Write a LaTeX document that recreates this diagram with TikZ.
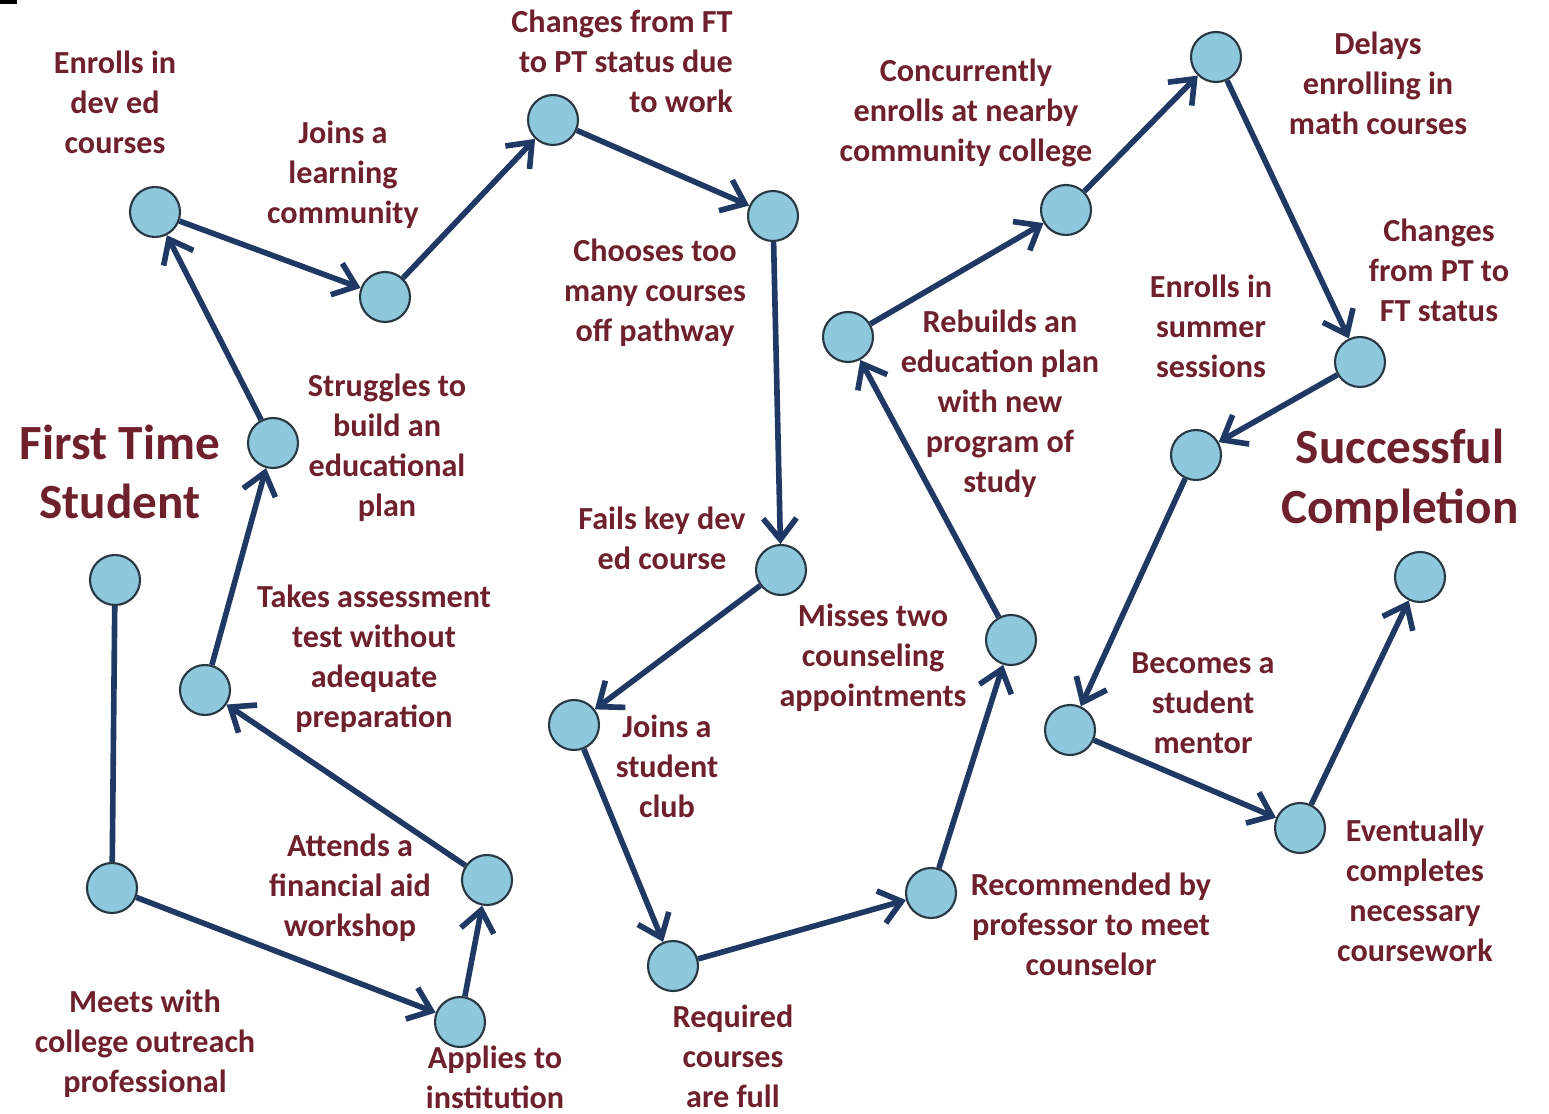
\documentclass[tikz,border=0pt]{standalone}
\usepackage{fontspec}
\setmainfont{Carlito}
\usetikzlibrary{arrows.meta}
\definecolor{txt}{RGB}{110,32,44}
\definecolor{dot}{RGB}{142,200,220}
\definecolor{dotline}{RGB}{40,55,66}
\definecolor{arr}{RGB}{31,56,100}
\tikzset{
  stop/.style={circle,fill=dot,draw=dotline,line width=1.2pt,minimum size=1cm,inner sep=0pt},
  lbl/.style={text=txt,font=\bfseries\fontsize{18.3}{22.8}\selectfont,align=center,inner sep=0pt},
  ttl/.style={text=txt,font=\bfseries\fontsize{28}{34}\selectfont,align=center,inner sep=0pt},
  link/.style={draw=arr,line width=3.2pt,-{Straight Barb[length=12pt,width=19pt,line width=3.2pt]}},
  plain/.style={draw=arr,line width=3.2pt}
}
\begin{document}
\begin{tikzpicture}[x=0.02cm,y=-0.02cm]
\useasboundingbox (0,0) rectangle (1549,1114);
\fill[black] (0,0) rectangle (17,4);
% stops
\node[stop] (s1) at (115,580) {};
\node[stop] (s2) at (112,888) {};
\node[stop] (s3) at (460,1022) {};
\node[stop] (s4) at (487,880) {};
\node[stop] (s5) at (205,690) {};
\node[stop] (s6) at (273,443) {};
\node[stop] (s7) at (155,212) {};
\node[stop] (s8) at (385,297) {};
\node[stop] (s9) at (553,120) {};
\node[stop] (s10) at (773,216) {};
\node[stop] (s11) at (781,570) {};
\node[stop] (s12) at (574,725) {};
\node[stop] (s13) at (673,966) {};
\node[stop] (s14) at (931,893) {};
\node[stop] (s15) at (1011,640) {};
\node[stop] (s16) at (848,337) {};
\node[stop] (s17) at (1066,210) {};
\node[stop] (s18) at (1216,57) {};
\node[stop] (s19) at (1360,362) {};
\node[stop] (s20) at (1196,455) {};
\node[stop] (s21) at (1070,730) {};
\node[stop] (s22) at (1300,828) {};
\node[stop] (s23) at (1420,577) {};
% connectors
\draw[plain] (s1) -- (s2);
\draw[link] (s2) -- (s3);
\draw[link] (s3) -- (s4);
\draw[link] (s4) -- (s5);
\draw[link] (s5) -- (s6);
\draw[link] (s6) -- (s7);
\draw[link] (s7) -- (s8);
\draw[link] (s8) -- (s9);
\draw[link] (s9) -- (s10);
\draw[link] (s10) -- (s11);
\draw[link] (s11) -- (s12);
\draw[link] (s12) -- (s13);
\draw[link] (s13) -- (s14);
\draw[link] (s14) -- (s15);
\draw[link] (s15) -- (s16);
\draw[link] (s16) -- (s17);
\draw[link] (s17) -- (s18);
\draw[link] (s18) -- (s19);
\draw[link] (s19) -- (s20);
\draw[link] (s20) -- (s21);
\draw[link] (s21) -- (s22);
\draw[link] (s22) -- (s23);
% titles
\node[ttl] (t1) at (120,472) {First Time\\Student};
\node[ttl] (t2) at (1400,480) {Successful\\Completion};
% labels
\node[lbl] (l1) at (115,102) {Enrolls in\\dev ed\\courses};
\node[lbl] (l2) at (343,175) {Joins a\\learning\\community};
\node[lbl,align=right,anchor=east] (l3) at (733,61) {Changes from FT\\to PT status due\\to work};
\node[lbl] (l4) at (655,293) {Chooses too\\many courses\\off pathway};
\node[lbl] (l5) at (662,538) {Fails key dev\\ed course};
\node[lbl] (l6) at (667,766) {Joins a\\student\\club};
\node[lbl] (l7) at (733,1056) {Required\\courses\\are full};
\node[lbl] (l8) at (1091,924) {Recommended by\\professor to meet\\counselor};
\node[lbl] (l9) at (873,658) {Misses two\\counseling\\appointments};
\node[lbl] (l10) at (1000,404) {Rebuilds an\\education plan\\with new\\program of\\study};
\node[lbl] (l11) at (966,113) {Concurrently\\enrolls at nearby\\community college};
\node[lbl] (l12) at (1378,83) {Delays\\enrolling in\\math courses};
\node[lbl] (l13) at (1439,270) {Changes\\from PT to\\FT status};
\node[lbl] (l14) at (1211,326) {Enrolls in\\summer\\sessions};
\node[lbl] (l15) at (1203,703) {Becomes a\\student\\mentor};
\node[lbl] (l16) at (1415,890) {Eventually\\completes\\necessary\\coursework};
\node[lbl] (l17) at (387,448) {Struggles to\\build an\\educational\\plan};
\node[lbl] (l18) at (374,659) {Takes assessment\\test without\\adequate\\preparation};
\node[lbl] (l19) at (350,888) {Attends a\\financial aid\\workshop};
\node[lbl] (l20) at (145,1044) {Meets with\\college outreach\\professional};
\node[lbl] (l21) at (495,1077) {Applies to\\institution};
\end{tikzpicture}
\end{document}
